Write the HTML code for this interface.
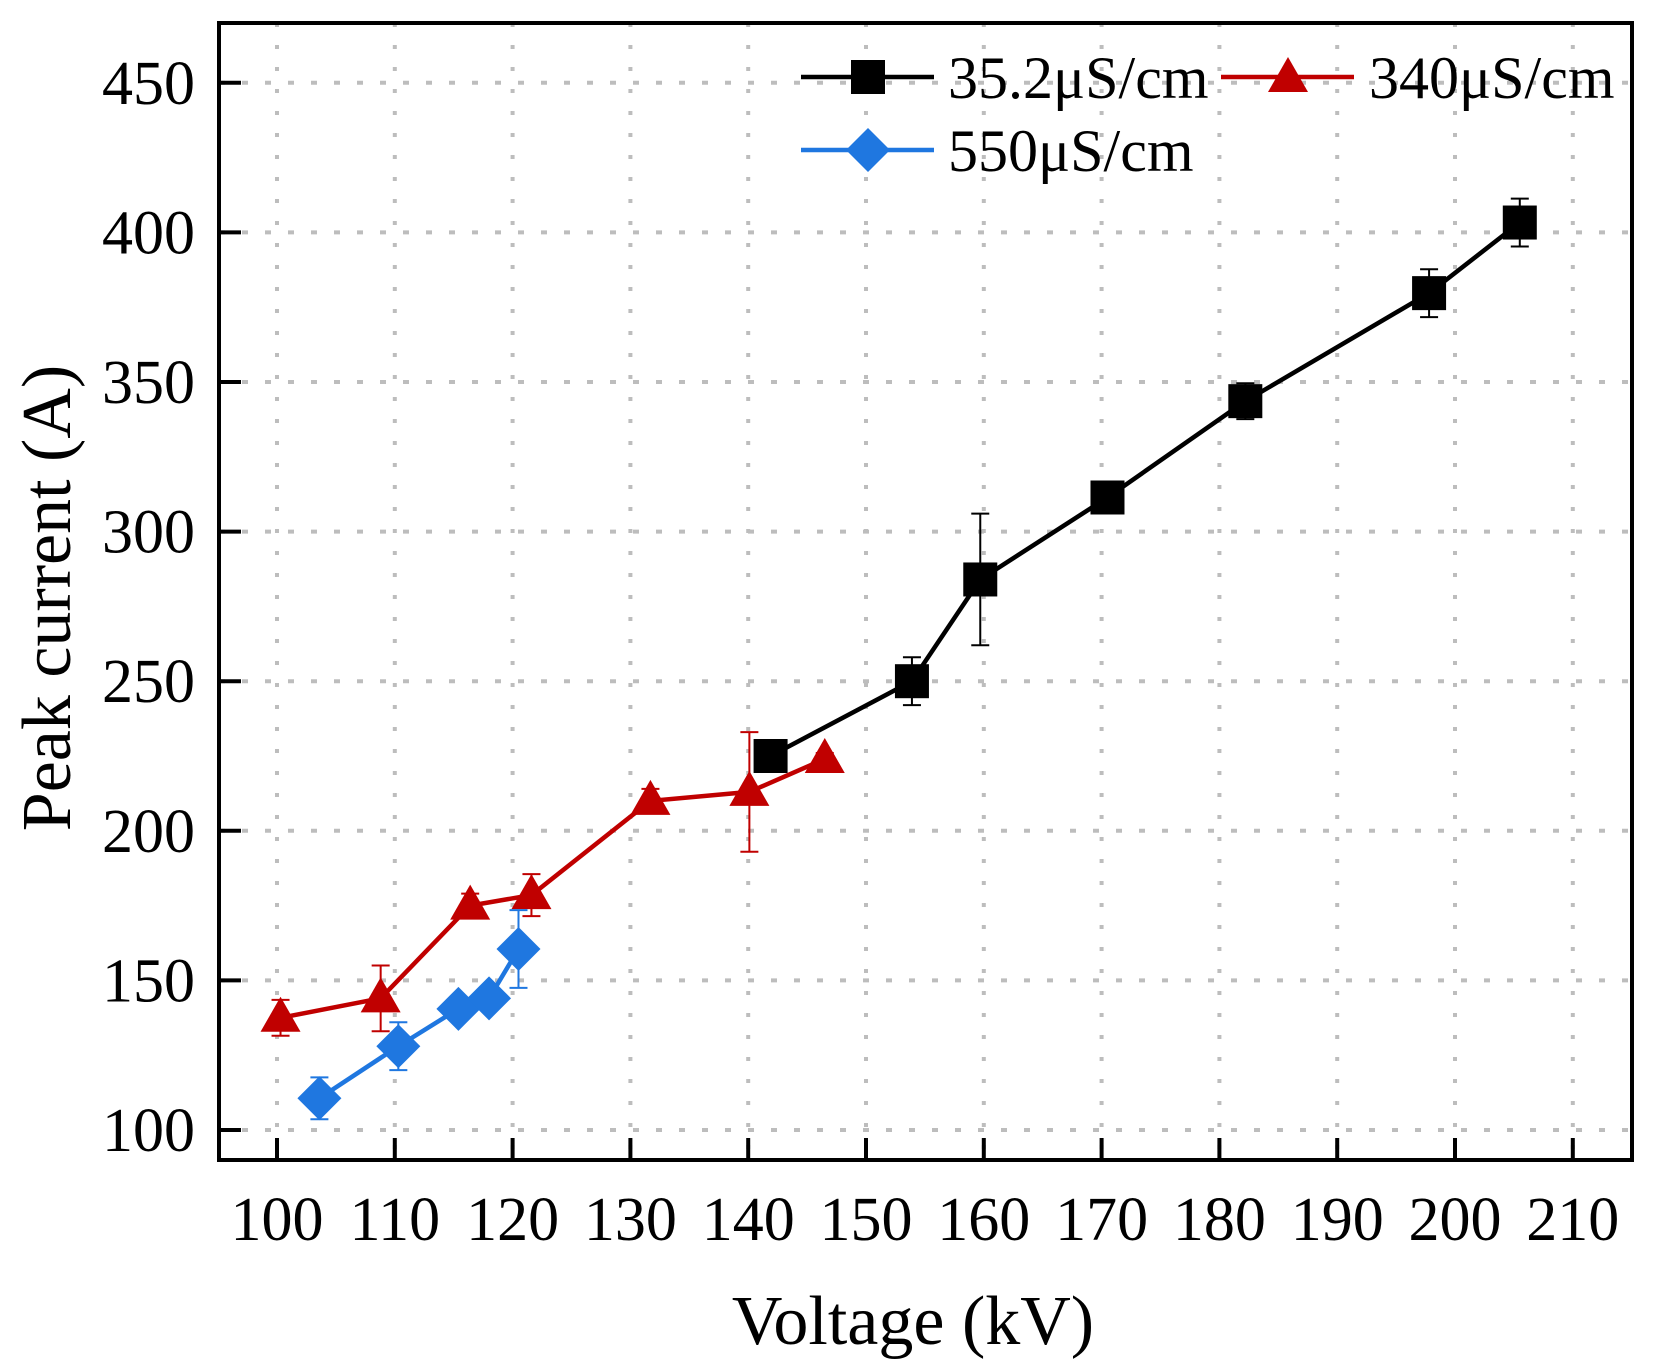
<!DOCTYPE html>
<html><head><meta charset="utf-8"><style>
html,body{margin:0;padding:0;background:#fff;}
svg{display:block;font-family:"Liberation Serif",serif;}
</style></head><body>
<svg id="chart" width="1659" height="1371" viewBox="0 0 1659 1371">
<g id="grid"></g>
<g id="axes"></g>
<g id="series"></g>
<g id="legend">
  <line x1="801" y1="77" x2="934" y2="77" stroke="#000" stroke-width="4.5"/>
  <rect x="851" y="60" width="34" height="34" fill="#000"/>
  <text x="948" y="98" font-size="60">35.2μS/cm</text>
  <line x1="1221" y1="77" x2="1354" y2="77" stroke="#c00000" stroke-width="4.5"/>
  <polygon points="1288,57 1308,92 1268,92" fill="#c00000"/>
  <text x="1369" y="98" font-size="60">340μS/cm</text>
  <line x1="801" y1="150" x2="934" y2="150" stroke="#1f77e0" stroke-width="4.5"/>
  <polygon points="868,128 890,150 868,172 846,150" fill="#1f77e0"/>
  <text x="948" y="171" font-size="60">550μS/cm</text>
</g>
<text x="913" y="1344" font-size="70" text-anchor="middle">Voltage (kV)</text>
<text transform="translate(70,598) rotate(-90)" font-size="70" text-anchor="middle">Peak current (A)</text>
</svg>
<script>
const xTicks=[100,110,120,130,140,150,160,170,180,190,200,210];
const yTicks=[100,150,200,250,300,350,400,450];
const blackX=[141.9,153.9,159.7,170.5,182.2,197.8,205.5];
const blackY=[225,250,284,311.4,343.6,379.7,403.3];
const blackErr=[3,8,22,3,6,8,8];
const redX=[100.3,108.8,116.4,121.6,131.7,140.1,146.5];
const redY=[137.5,144,175,178.5,210,213,224];
const redErr=[6,11,4,7,4,20,2];
const blueX=[103.6,110.3,115.4,118,120.5];
const blueY=[110.6,128,140.5,144,160.5];
const blueErr=[7,8,3,3,13];

const L=219,R=1632,T=23,B=1160;
const sx=v=>277+(v-100)*11.78;
const sy=v=>1130-(v-100)*149.6/50;
const NS="http://www.w3.org/2000/svg";
function mk(tag,attrs,parent){const e=document.createElementNS(NS,tag);for(const k in attrs)e.setAttribute(k,attrs[k]);parent.appendChild(e);return e;}
const grid=document.getElementById('grid'),axes=document.getElementById('axes'),series=document.getElementById('series');
xTicks.forEach(v=>{
  const g=mk('line',{x1:sx(v),x2:sx(v),y1:T,y2:B,stroke:'#bdbdbd','stroke-width':4,'stroke-dasharray':'4 18'},grid);
  
  
  const t=mk('line',{x1:sx(v),x2:sx(v),y1:B,y2:B-22,stroke:'#000','stroke-width':4},axes);
  
  
  const l=mk('text',{x:sx(v),y:1240,'font-size':62,'text-anchor':'middle'},axes);l.textContent=v;
  
  
});
yTicks.forEach(v=>{
  const g=mk('line',{x1:L,x2:R,y1:sy(v),y2:sy(v),stroke:'#bdbdbd','stroke-width':4,'stroke-dasharray':'6 17'},grid);
  
  
  const t=mk('line',{x1:L,x2:L+22,y1:sy(v),y2:sy(v),stroke:'#000','stroke-width':4},axes);
  
  
  const l=mk('text',{x:195,y:sy(v)+21,'font-size':62,'text-anchor':'end'},axes);l.textContent=v;
  
  
});
const frame=mk('rect',{x:L,y:T,width:R-L,height:B-T,fill:'none',stroke:'#000','stroke-width':4},axes);



function drawSeries(xs,ys,es,color,shape,name){
  const g=mk('g',{},series);
  
  
  xs.forEach((x,i)=>{
    const cx=sx(x),t=sy(ys[i]+es[i]),b=sy(ys[i]-es[i]);
    const e=mk('path',{d:`M${cx},${t}V${b}M${cx-9},${t}H${cx+9}M${cx-9},${b}H${cx+9}`,stroke:color,'stroke-width':2,fill:'none'},g);
    
    
  });
  const pl=mk('polyline',{points:xs.map((x,i)=>sx(x)+','+sy(ys[i])).join(' '),fill:'none',stroke:color,'stroke-width':4.5},g);
  
  
  xs.forEach((x,i)=>{
    const cx=sx(x),cy=sy(ys[i]);let m;
    if(shape==='sq')m=mk('rect',{x:cx-17,y:cy-17,width:34,height:34,fill:color},g);
    else if(shape==='tri')m=mk('polygon',{points:`${cx},${cy-21} ${cx+20},${cy+14} ${cx-20},${cy+14}`,fill:color},g);
    else m=mk('polygon',{points:`${cx},${cy-22} ${cx+22},${cy} ${cx},${cy+22} ${cx-22},${cy}`,fill:color},g);
    
    
  });
}
drawSeries(redX,redY,redErr,'#c00000','tri','series-340');
drawSeries(blueX,blueY,blueErr,'#1f77e0','dia','series-550');
drawSeries(blackX,blackY,blackErr,'#000','sq','series-35');
</script>
</body></html>
